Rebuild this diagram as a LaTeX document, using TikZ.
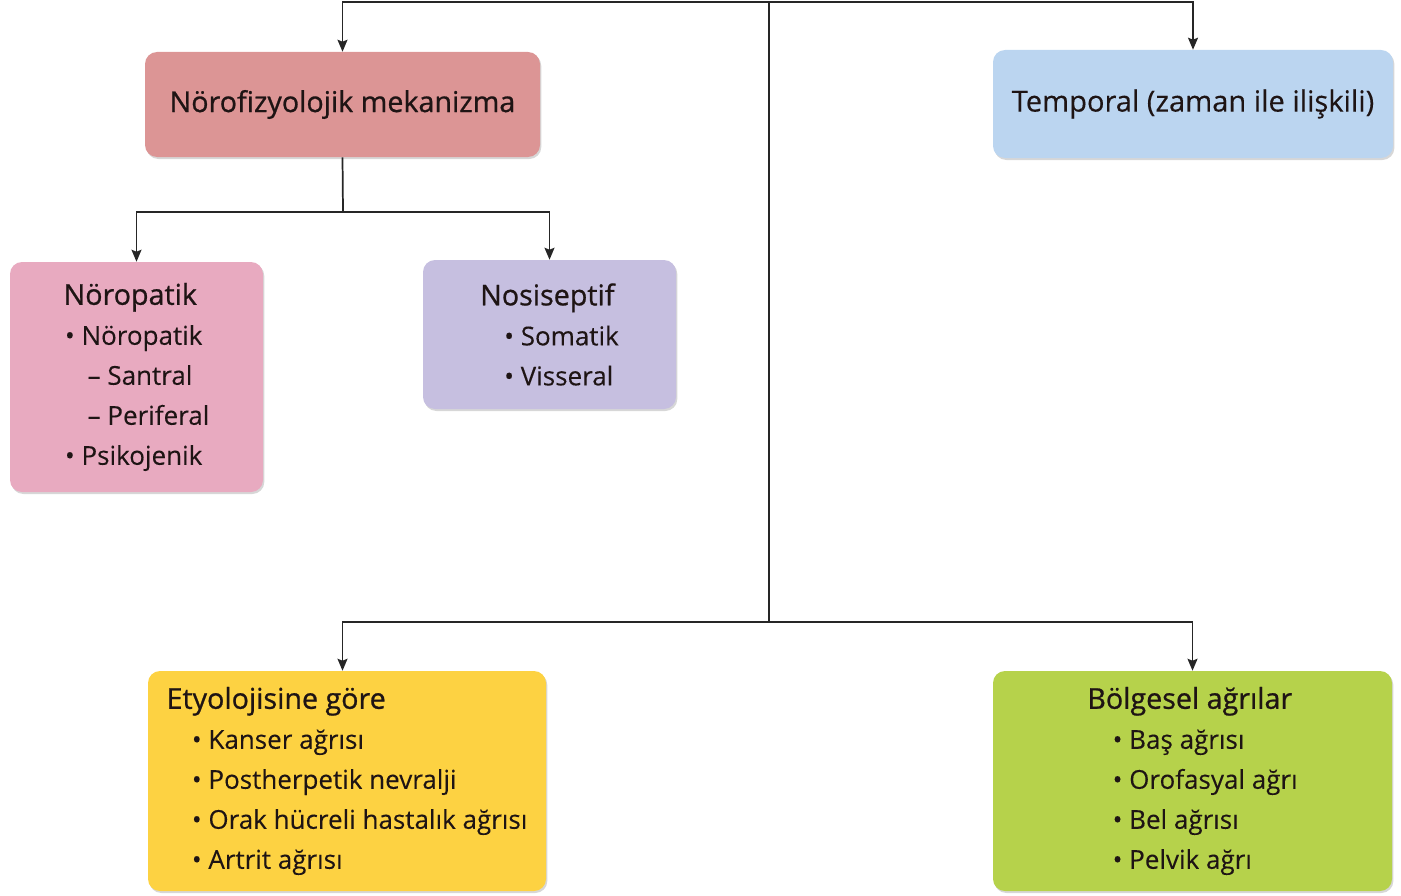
\documentclass[tikz,border=0pt]{standalone}
\usepackage{fontspec}
\setmainfont{Open Sans}[FakeBold=0.15]
\newfontfamily\titlefont[FakeBold=0.8]{Open Sans}
\newfontfamily\tempfont[FakeBold=0.3]{Open Sans}
\usetikzlibrary{arrows.meta,shadows}
\definecolor{cNf}{HTML}{DC9595}
\definecolor{cTp}{HTML}{BBD5F0}
\definecolor{cNp}{HTML}{E8AAC0}
\definecolor{cNs}{HTML}{C6BFE0}
\definecolor{cEt}{HTML}{FDD242}
\definecolor{cBg}{HTML}{B6D24B}
\definecolor{ink}{HTML}{1E1414}
\definecolor{wire}{HTML}{262626}
\newcommand{\bul}{\textbullet\ }
\newcommand{\ttl}[1]{{\titlefont\fontsize{21.5}{30}\selectfont #1}}
\tikzset{
  box/.style={rectangle, rounded corners=9pt, draw=none, align=left, text=ink,
    font=\fontsize{19.5}{30}\selectfont,
    drop shadow={shadow xshift=1pt, shadow yshift=-1.5pt, opacity=0.35, fill=black!45}},
  wireline/.style={draw=wire, line width=1.3pt},
  arr/.style={wireline, -{Stealth[length=9pt,width=7.5pt,inset=1.5pt]}},
}
\begin{document}
\begin{tikzpicture}[x=0.75pt,y=-0.75pt]
\useasboundingbox (0,0) rectangle (1401,895);
\node[box, fill=cNf, minimum width=296.25pt, minimum height=78.75pt] (nf) at (342.5,104.5) {\ttl{Nörofizyolojik mekanizma}};
\node[box, fill=cTp, minimum width=300pt, minimum height=81pt] (tp) at (1193,104) {\tempfont\fontsize{21.8}{30}\selectfont Temporal (zaman ile ilişkili)};
\node[box, fill=cNp, minimum width=189.75pt, minimum height=172.5pt] (np) at (136.5,377) {\ttl{Nöropatik}\\\hspace*{1pt}\bul Nöropatik\\\hspace*{18pt}– Santral\\\hspace*{18pt}– Periferal\\\hspace*{1pt}\bul Psikojenik};
\node[box, fill=cNs, minimum width=189.75pt, minimum height=111.75pt] (ns) at (549.5,334.5) {\ttl{Nosiseptif}\\\hspace*{18pt}\bul Somatik\\\hspace*{18pt}\bul Visseral};
\node[box, fill=cEt, minimum width=298.5pt, minimum height=165pt] (et) at (347,781) {\ttl{Etyolojisine göre}\\\hspace*{19pt}\bul Kanser ağrısı\\\hspace*{19pt}\bul Postherpetik nevralji\\\hspace*{19pt}\bul Orak hücreli hastalık ağrısı\\\hspace*{19pt}\bul Artrit ağrısı};
\node[box, fill=cBg, minimum width=299.25pt, minimum height=165pt] (bg) at (1192.5,781) {\ttl{Bölgesel ağrılar}\\\hspace*{19pt}\bul Baş ağrısı\\\hspace*{19pt}\bul Orofasyal ağrı\\\hspace*{19pt}\bul Bel ağrısı\\\hspace*{19pt}\bul Pelvik ağrı};
\coordinate (top) at (769,2);
\coordinate (mid) at (769,622);
\coordinate (split) at (343,212);
\draw[arr] (top) -| (nf.north);
\draw[arr] (top) -| (tp.north);
\draw[wireline] (top) -- (mid);
\draw[arr] (mid) -| (et.north -| nf.south);
\draw[arr] (mid) -| (bg.north);
\draw[wireline] (nf.south) -- (split);
\draw[arr] (split) -| (np.north);
\draw[arr] (split) -| (ns.north);
\end{tikzpicture}
\end{document}
